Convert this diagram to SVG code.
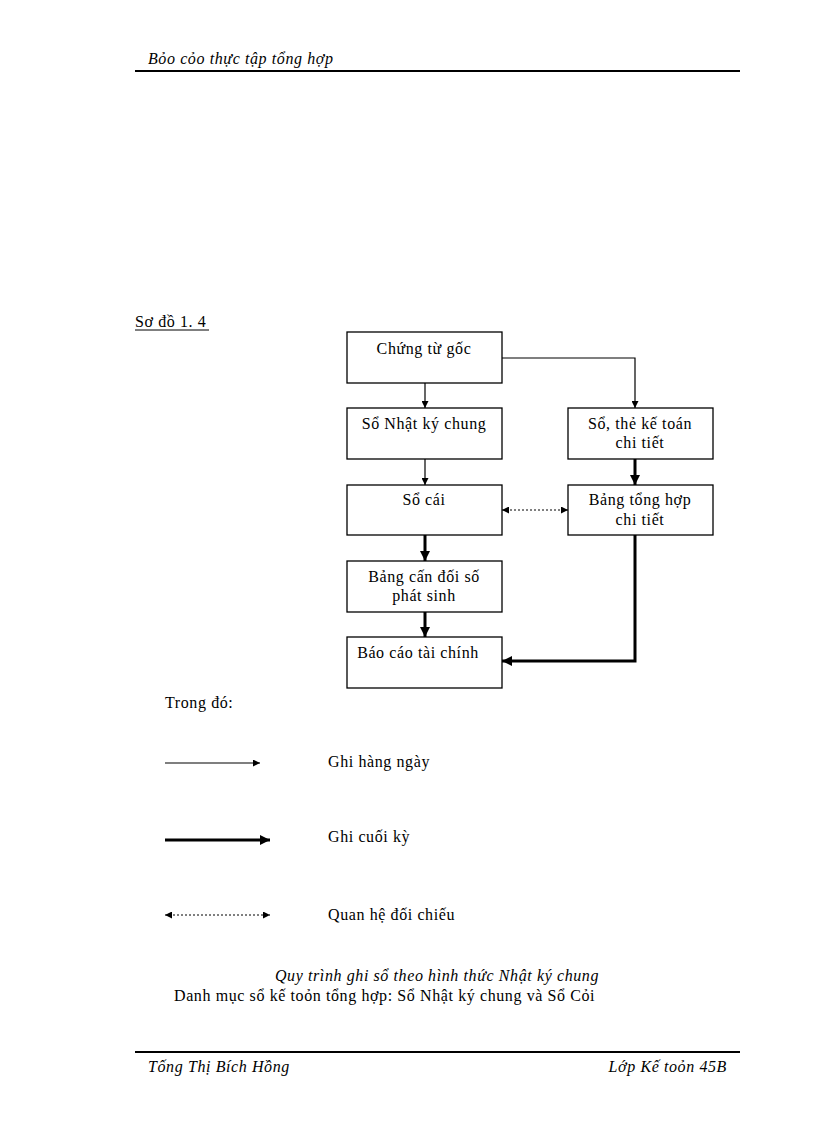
<svg xmlns="http://www.w3.org/2000/svg" width="816" height="1123" viewBox="0 0 816 1123">
<style>
text{font-family:"Liberation Serif",serif;font-size:16px;letter-spacing:0.6px;fill:#000}
.it{font-style:italic}
.b{fill:#fff;stroke:#000;stroke-width:1.3}
.t{stroke:#000;stroke-width:1.2;fill:none}
.k{stroke:#000;stroke-width:3;fill:none}
.d{stroke:#000;stroke-width:1;stroke-dasharray:2,2;fill:none}
</style>
<defs>
<marker id="a" viewBox="0 0 10 10" refX="10" refY="5" markerWidth="7" markerHeight="7" markerUnits="userSpaceOnUse" orient="auto"><path d="M0,0L10,5L0,10z"/></marker>
<marker id="ak" viewBox="0 0 10 10" refX="10" refY="5" markerWidth="10" markerHeight="10" markerUnits="userSpaceOnUse" orient="auto"><path d="M0,0L10,5L0,10z"/></marker>
<marker id="as" viewBox="0 0 10 10" refX="0" refY="5" markerWidth="7" markerHeight="7" markerUnits="userSpaceOnUse" orient="auto"><path d="M10,0L0,5L10,10z"/></marker>
</defs>
<rect width="816" height="1123" fill="#fff"/>
<text x="148" y="64" class="it">Bỏo cỏo thực tập tổng hợp</text>
<line x1="135" y1="71" x2="740" y2="71" stroke="#000" stroke-width="2"/>
<text x="135" y="327">Sơ đồ 1. 4</text>
<line x1="135" y1="330" x2="209" y2="330" stroke="#000" stroke-width="1"/>
<g id="connectors">
<path class="t" d="M425,383V408" marker-end="url(#a)"/>
<path class="t" d="M502,358H635V408" marker-end="url(#a)"/>
<path class="t" d="M425,459V485" marker-end="url(#a)"/>
<path class="k" d="M635,459V485" marker-end="url(#ak)"/>
<path class="d" d="M502,510H568" marker-start="url(#as)" marker-end="url(#a)"/>
<path class="k" d="M425,535V561" marker-end="url(#ak)"/>
<path class="k" d="M425,612V637" marker-end="url(#ak)"/>
<path class="k" d="M635,535V661H502" marker-end="url(#ak)"/>
</g>
<g id="n1"><rect class="b" x="347" y="332" width="155" height="51"/><text x="424" y="354" text-anchor="middle">Chứng  từ gốc</text></g>
<g id="n2"><rect class="b" x="347" y="408" width="155" height="51"/><text x="424" y="429" text-anchor="middle">Sổ Nhật ký  chung</text></g>
<g id="n3"><rect class="b" x="568" y="408" width="145" height="51"/><text x="640" y="429" text-anchor="middle">Sổ, thẻ kế toán</text><text x="640" y="448" text-anchor="middle">chi tiết</text></g>
<g id="n4"><rect class="b" x="347" y="485" width="155" height="50"/><text x="424" y="505" text-anchor="middle">Sổ cái</text></g>
<g id="n5"><rect class="b" x="568" y="485" width="145" height="50"/><text x="640" y="505" text-anchor="middle">Bảng tổng hợp</text><text x="640" y="525" text-anchor="middle">chi tiết</text></g>
<g id="n6"><rect class="b" x="347" y="561" width="155" height="51"/><text x="424" y="582" text-anchor="middle">Bảng  cấn đối số</text><text x="424" y="601" text-anchor="middle">phát  sinh</text></g>
<g id="n7"><rect class="b" x="347" y="637" width="155" height="51"/><text x="418" y="658" text-anchor="middle">Báo cáo tài chính</text></g>
<text x="165" y="708">Trong đó:</text>
<g id="legend">
<path class="t" d="M165,763H260" marker-end="url(#a)"/>
<text x="328" y="767">Ghi hàng ngày</text>
<path class="k" d="M165,840H270" marker-end="url(#ak)"/>
<text x="328" y="842">Ghi cuối kỳ</text>
<path class="d" d="M165,915H270" marker-start="url(#as)" marker-end="url(#a)"/>
<text x="328" y="920">Quan hệ đối chiếu</text>
</g>
<text x="437" y="981" class="it" text-anchor="middle">Quy trình  ghi sổ theo hình thức Nhật ký chung</text>
<text x="174" y="1001">Danh  mục sổ kế toỏn tổng hợp:  Sổ Nhật ký chung  và Sổ Cỏi</text>
<line x1="135" y1="1052" x2="740" y2="1052" stroke="#000" stroke-width="2"/>
<text x="148" y="1072" class="it">Tống Thị Bích Hồng</text>
<text x="727" y="1072" class="it" text-anchor="end">Lớp  Kế toỏn 45B</text>
</svg>
